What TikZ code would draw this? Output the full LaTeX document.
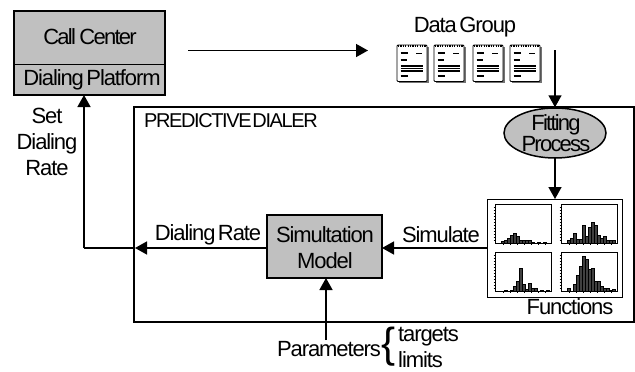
\documentclass[tikz,border=0pt]{standalone}
\usepackage{fontspec}
\setmainfont{Liberation Sans}[LetterSpace=-5,WordSpace=0.5]
\newfontfamily\capsfont{Liberation Sans}[LetterSpace=-7,WordSpace=0.2]
\newfontfamily\tightfont{Liberation Sans}[LetterSpace=-8,WordSpace=0.8]
\usetikzlibrary{arrows.meta,shapes.geometric}
\definecolor{boxgray}{HTML}{C0C0C0}
\tikzset{
  lbl/.style={font=\fontsize{22}{26}\selectfont, inner sep=0pt},
  capslbl/.style={font=\fontsize{20}{24}\selectfont\capsfont, inner sep=0pt},
  graybox/.style={draw, fill=boxgray, line width=1.5pt, inner sep=0pt},
  line/.style={line width=1.5pt},
  flow/.style={line width=1.5pt, -{Triangle[length=12pt, width=13pt]}},
}
% one small chart: top-left corner and bar heights
\newcommand{\histo}[3]{
  \draw[line width=.7pt] (#1,#2) rectangle ++(56,39);
  \foreach \t in {3,6,...,36} \draw[line width=.4pt] (#1-1.5,#2+\t) -- (#1+1,#2+\t);
  \foreach \t in {8,15,...,56} \draw[line width=.4pt] (#1+\t,#2+39) -- (#1+\t,#2+40.5);
  \foreach \h [count=\i] in {#3}
    \draw[fill=black!75, line width=.5pt] (#1+3+\i*3,#2+39) rectangle ++(3,-\h);
}
% one note pad
\newcommand{\notepad}[2]{
  \fill[black!55] (#1+1.5,#2+1.5) rectangle ++(30.5,36.5);
  \draw[fill=white, line width=.8pt, rounded corners=1pt] (#1,#2) rectangle ++(30,36.5);
  \draw[line width=1.4pt, dash pattern=on 1.2pt off 1.2pt] (#1+1,#2+1) -- ++(28,0);
  \foreach \l/\w in {8/7,15/6,21/22,23.5/22,26/22,31/7}
    \draw[line width=1.2pt] (#1+3.5,#2+\l) -- ++(\w,0);
  \draw[line width=.9pt] (#1+19,#2+8) -- ++(6,0);
}
\begin{document}
\begin{tikzpicture}[x=1pt, y=-1pt]
\useasboundingbox (0,0) rectangle (635,372);

% outer box of the dialer
\node[draw, line width=1.5pt, minimum width=500pt, minimum height=215pt, inner sep=0pt] (dialer) at (384,214.5) {};
\node[capslbl, anchor=west] (dialertext) at (144,121) {PREDICTIVE DIALER};

% call center
\node[graybox, minimum width=151pt, minimum height=84pt] (center) at (89.5,53) {};
\node[lbl] (centertext) at (90,37) {\tightfont Call Center};
\node[lbl] (platform) at (92,80) {Dialing Platform};
\coordinate (splitleft) at (14,64);
\coordinate (splitright) at (165,64);
\draw[line width=1pt] (splitleft) -- (splitright);

% data group
\node[lbl] (datatext) at (465,27) {Data Group};
\foreach \x in {397,434,473,510} \notepad{\x}{45};
\coordinate (dataout) at (555,50);
\coordinate (callout) at (188,50.5);
\coordinate (datain) at (368,50.5);

% fitting
\node[ellipse, draw, fill=boxgray, line width=1.5pt, minimum width=102pt, minimum height=50pt, inner sep=0pt] (fit) at (555,133) {};
\node[lbl, align=center] (fittext) at (556,133) {\tightfont Fitting\\[-5pt]\tightfont Process};

% functions
\node[draw, line width=1pt, minimum width=135pt, minimum height=98pt, inner sep=0pt] (func) at (554.5,248) {};
\histo{495}{204}{2,3,5,8,10,7,3,3,3,3,1,0,1,0,1}
\histo{561}{204}{3,5,10,4,4,18,7,16,21,18,8,5,7,3,3,3}
\histo{495}{252}{0,1,0,1,5,10,23,7,2,8,3,3,0,1,0,1}
\histo{561}{252}{3,0,7,16,25,35,32,22,23,10,10,5,3,3,1,2}
\node[lbl] (functext) at (570,307) {Functions};

% simulation model
\node[graybox, minimum width=115pt, minimum height=63pt] (model) at (324.5,246.5) {};
\node[lbl, align=center] (modeltext) at (325,248) {Simultation\\[0pt]Model};

\node[lbl] (rate) at (208,235) {Dialing Rate};
\node[lbl] (simulate) at (441,235) {Simulate};
\node[lbl, align=center] (setrate) at (47,142) {Set\\[0pt]Dialing\\[0pt]Rate};

% parameters
\node[lbl] (param) at (329,349) {Parameters};
\node[inner sep=0pt, font=\fontsize{42}{46}\selectfont] (brace) at (388.5,347) {\{};
\node[lbl, anchor=west] (targets) at (398,337) {targets};
\node[lbl, anchor=west] (limits) at (398,360) {limits};

\coordinate (corner) at (84,248);
\coordinate (centerin) at (84,95);
\coordinate (funcout) at (487,248);
\coordinate (modelin) at (382,248);
\coordinate (modelout) at (267,248);
\coordinate (ratein) at (135,248);
\coordinate (paramout) at (326,340);
\coordinate (paramin) at (326,278);
\coordinate (fitout) at (555,158);
\coordinate (funcin) at (555,199);

\draw[flow] (callout) -- (datain);
\draw[flow] (dataout) -- (fit.north);
\draw[flow] (fitout) -- (funcin);
\draw[flow] (funcout) -- (modelin);
\draw[flow] (modelout) -- (ratein);
\draw[line] (ratein) -- (corner);
\draw[flow] (corner) -- (centerin);
\draw[flow] (paramout) -- (paramin);
\end{tikzpicture}
\end{document}
